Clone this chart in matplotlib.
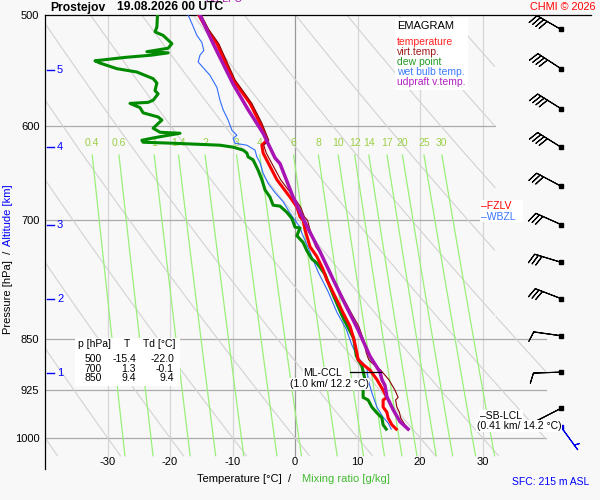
import numpy as np
import matplotlib
matplotlib.use("Agg")
import matplotlib.pyplot as plt
from matplotlib.patches import Rectangle
from matplotlib.ticker import NullLocator

plt.rcParams['font.family'] = ['Liberation Sans', 'DejaVu Sans']

# --- sounding (p in hPa, T in degC) ---
p_temp = [500, 512, 524, 556, 578, 597, 614, 619, 627, 655, 674, 685, 696, 700, 711, 731,
          743, 759, 772, 798, 815, 833, 850, 870, 880, 887, 895, 909, 925, 936, 940, 951,
          959, 968, 979, 986]
t_temp = [-15.4, -14.1, -12.5, -9.9, -7.2, -5.6, -4.5, -5.3, -5.1, -2.9, -0.8, 0.3, 0.8, 1.3,
          1.6, 2.4, 3.5, 4.5, 5.1, 6.7, 7.7, 8.8, 9.4, 9.9, 10.1, 10.9, 12.0, 13.1, 14.1, 14.7,
          14.1, 14.1, 14.7, 14.9, 15.5, 16.2]
t_virt = [-15.0, -13.8, -12.2, -9.6, -6.9, -5.3, -4.2, -5.0, -4.6, -2.3, -0.2, 0.9, 1.5, 2.0,
          2.4, 3.3, 4.4, 5.5, 6.2, 7.9, 9.0, 10.2, 10.9, 11.4, 11.8, 12.6, 13.7, 15.0, 16.0, 16.5,
          16.1, 16.3, 16.7, 16.9, 17.6, 18.1]

p_dew = [500, 510, 514, 517, 524, 528, 531, 532, 534, 536, 539, 541, 546, 549, 555, 559, 566,
         569, 575, 577, 578, 582, 587, 591, 594, 602, 606, 607, 611, 614, 616, 617, 619, 621,
         624, 627, 631, 634, 645, 655, 666, 674, 683, 684, 691, 698, 708, 709, 718, 726, 736,
         746, 751, 765, 791, 818, 850, 874, 880, 889, 909, 922, 936, 940, 951, 960, 968, 979, 986]
t_dew = [-22.0, -22.1, -22.4, -21.1, -19.7, -20.3, -23.7, -20.3, -22.9, -27.2, -32.0, -31.2,
         -28.5, -25.3, -22.7, -22.1, -22.4, -21.9, -22.7, -23.5, -26.4, -24.8, -24.3, -21.9,
         -21.3, -22.7, -21.6, -18.4, -22.1, -24.5, -24.3, -19.5, -12.0, -9.9, -8.3, -7.7, -7.5,
         -6.7, -5.9, -5.3, -4.8, -4.0, -3.5, -2.4, -1.3, -0.5, 0.0, 0.8, 0.3, 1.3, 1.9, 2.7, 3.5,
         4.8, 6.1, 7.5, 9.4, 9.8, 10.1, 10.7, 11.2, 10.9, 10.9, 11.7, 12.3, 13.1, 13.9, 14.1, 14.6]

p_wet = [500, 507, 517, 523, 530, 534, 540, 545, 552, 563, 575, 584, 594, 604, 609, 612, 617,
         619, 624, 631, 637, 648, 659, 669, 679, 692, 700, 708, 715, 732, 747, 762, 787, 814,
         837, 859, 874, 880, 891, 909, 929, 951, 967, 976, 986]
t_wet = [-17.1, -16.5, -15.7, -14.9, -14.6, -15.2, -15.5, -14.7, -13.6, -12.5, -12.0, -11.5,
         -10.7, -10.1, -9.3, -9.9, -9.6, -7.7, -6.4, -6.1, -5.6, -5.1, -4.3, -3.2, -1.9, -0.8,
         0.0, 0.8, 1.1, 2.1, 2.9, 3.7, 5.3, 6.7, 8.2, 9.1, 9.9, 10.4, 11.5, 11.7, 12.3, 13.1,
         14.1, 14.9, 15.4]

p_parcel = [500, 524, 560, 584, 607, 632, 638, 674, 707, 737, 768, 798, 838, 875, 898, 909,
            918, 935, 955, 974, 986]
t_parcel = [-15.2, -13.1, -9.9, -7.5, -5.1, -3.2, -2.4, -0.3, 1.9, 4.0, 5.9, 7.7, 10.1, 12.0,
            13.6, 13.9, 14.4, 14.7, 15.7, 16.8, 18.1]

# winds every 500 m (direction deg, speed kt)
wind_p = [512, 546, 583, 621, 662, 705, 750, 796, 846, 898, 953]
wind_dir = [300, 303, 302, 302, 298, 294, 287, 291, 278, 268, 243]
wind_spd = [40, 40, 40, 40, 30, 30, 30, 30, 10, 10, 10]
sfc_wind_p = [983]
sfc_wind_dir = [144]
sfc_wind_spd = [5]

table_p = [500, 700, 850]
table_t = [-15.4, 1.3, 9.4]
table_td = [-22.0, -0.1, 9.4]

alt_km = [1, 2, 3, 4, 5]
alt_p = [900, 797, 706, 621, 547]

mix_ratios = [0.4, 0.6, 1, 1.4, 2, 3, 4, 6, 8, 10, 12, 14, 17, 20, 25, 30]
isobars = [600, 700, 850, 925, 1000]
isotherms = [-30, -20, -10, 0, 10, 20, 30]

BG = '#f8f8f8'
W, H = 600, 500


def fx(x):
    return x / W


def fy(y):
    return 1 - y / H


def uv(spd, dirs):
    d = np.deg2rad(dirs)
    return -np.array(spd) * np.sin(d), -np.array(spd) * np.cos(d)


fig = plt.figure(figsize=(6, 5), dpi=100, facecolor=BG)
ax = fig.add_axes([45 / W, 31 / H, 546 / W, 454 / H])
ax.set_facecolor(BG)
ax.set_yscale('log')
ax.set_xlim(-40, 47.36)
ax.set_ylim(1052.6, 500)

# background grid: isotherms, isobars, dry adiabats, mixing ratio lines
for t in isotherms:
    ax.plot([t, t], [500, 1030], color='#999999' if t == 0 else '#d6d6d6', lw=0.9, zorder=1)
for p in isobars:
    ax.plot([-40, 32 if p < 800 else 40.2], [p, p], color='#aaaaaa', lw=0.9, zorder=1)

pp = np.linspace(500, 1030, 400)
for theta in 273.15 + 10 * np.arange(-5, 12):
    tt = theta * (pp / 1000.0) ** 0.286 - 273.15
    lim = np.where(pp < 820, 32, 40.2)
    tt = np.where(tt <= lim, tt, np.nan)
    ax.plot(tt, pp, color='#d2d2d2', lw=0.8, zorder=1)

pm = np.linspace(629, 1030, 60)
for w in mix_ratios:
    e = w * pm / (622.0 + w)
    lg = np.log(e / 6.112)
    td = 243.5 * lg / (17.67 - lg)
    ax.plot(td, pm, color='#9af07a', lw=0.9, zorder=2)
    ax.text(td[0], 616.7, f'{w:g}', color='#9ccf45', fontsize=7.5, ha='center', va='center', zorder=2)

# sounding curves
ax.plot(t_wet, p_wet, color='#2f6cff', lw=0.8, zorder=4)
ax.plot(t_dew, p_dew, color='#008a00', lw=2.2, zorder=5)
ax.plot(t_temp, p_temp, color='#ff0000', lw=2.2, zorder=5)
ax.plot(t_virt, p_temp, color='#8b0000', lw=0.8, zorder=6)
ax.plot(t_parcel, p_parcel, color='#a814b4', lw=2.5, zorder=7)

# wind barbs
bx = 42.56
barb_sizes = dict(spacing=0.14, height=0.36, width=0.25)
u, v = uv(wind_spd, wind_dir)
ax.barbs([bx] * len(wind_p), wind_p, u, v, length=6.3, color='black', linewidth=0.8,
         sizes=barb_sizes, flip_barb=True, zorder=8)
ax.plot([bx] * len(wind_p), wind_p, 's', ms=2.2, color='black', zorder=9)
u, v = uv(sfc_wind_spd, sfc_wind_dir)
ax.barbs([bx], sfc_wind_p, u, v, length=6.3, color='#0000ee', linewidth=0.8,
         sizes=barb_sizes, flip_barb=True, zorder=8)
ax.plot([bx], sfc_wind_p, 's', ms=2.2, color='#0000ee', zorder=9)

# level annotations
ax.plot([8.8, 13.8], [898, 898], color='black', lw=0.9, zorder=9)
box = dict(facecolor='white', edgecolor='none', pad=0.5)
fig.text(fx(323), fy(373), 'ML-CCL', fontsize=7.5, ha='center', va='center', bbox=box)
fig.text(fx(329), fy(384), '(1.0 km/ 12.2 °C)', fontsize=7.5, ha='center', va='center', bbox=box)
fig.text(fx(480), fy(416), '–SB-LCL', fontsize=7.5, ha='left', va='center', bbox=box)
fig.text(fx(477), fy(426), '(0.41 km/ 14.2 °C)', fontsize=7.5, ha='left', va='center', bbox=box)
fig.add_artist(Rectangle((fx(480), fy(222)), 43 / W, 22 / H, transform=fig.transFigure,
                         facecolor='white', edgecolor='none', zorder=2.5))
fig.text(fx(481), fy(206), '–FZLV', fontsize=7.5, color='#ff0000', ha='left', va='center')
fig.text(fx(481), fy(216.5), '–WBZL', fontsize=7.5, color='#3a72ff', ha='left', va='center')
fig.text(fx(206), fy(-1.5), 'SB-LFC', fontsize=7.5, color='#a814b4', ha='left', va='center')

# altitude marks
ytr = ax.get_yaxis_transform()
for k, p in zip(alt_km, alt_p):
    ax.plot([0.004, 0.016], [p, p], color='#0000ff', lw=1, transform=ytr, zorder=9)
    ax.text(0.022, p, str(k), color='#0000ff', fontsize=8, ha='left', va='center', transform=ytr)

# axes styling
ax.yaxis.set_minor_locator(NullLocator())
ax.set_yticks([500] + isobars, labels=[str(p) for p in [500] + isobars])
ax.set_xticks(isotherms, labels=[str(t) for t in isotherms])
ax.tick_params(axis='y', length=0, pad=4, labelsize=8)
ax.tick_params(axis='x', length=0, pad=-8.6, labelsize=8)
for s in ['right', 'bottom']:
    ax.spines[s].set_visible(False)
for s in ['left', 'top']:
    ax.spines[s].set_color('black')
    ax.spines[s].set_linewidth(0.9)

# axis titles
fig.text(fx(8), fy(334), 'Pressure [hPa]  /', fontsize=8, rotation=90, ha='left', va='center',
         rotation_mode='anchor')
fig.text(fx(8), fy(246), 'Altitude [km]', fontsize=8, rotation=90, color='#0000ff', ha='left',
         va='center', rotation_mode='anchor')
fig.text(fx(197), fy(479), 'Temperature [°C]  /', fontsize=8, ha='left', va='center')
fig.text(fx(302), fy(479), 'Mixing ratio [g/kg]', fontsize=8, color='#44bb33', ha='left', va='center')

fig.text(fx(50), fy(7.5), 'Prostejov', fontsize=8.7, fontweight='bold', ha='left', va='center')
fig.text(fx(117), fy(7.5), '19.08.2026 00 UTC', fontsize=8.7, fontweight='bold', ha='left', va='center')
fig.text(fx(596), fy(7), 'CHMI © 2026', fontsize=7.8, color='#ff0000', ha='right', va='center')
fig.text(fx(589), fy(482), 'SFC: 215 m ASL', fontsize=7.5, color='#0000ff', ha='right', va='center')

# legend box
fig.add_artist(Rectangle((fx(395), fy(90)), 73 / W, 72 / H, transform=fig.transFigure,
                         facecolor='white', edgecolor='none', zorder=2.5))
fig.text(fx(397), fy(26), 'EMAGRAM', fontsize=8, ha='left', va='center')
leg_names = ['temperature', 'virt.temp.', 'dew point', 'wet bulb temp.', 'udpraft v.temp.']
leg_colors = ['#ff2020', '#a01818', '#229922', '#3a7aff', '#b020c0']
for i, (n, c) in enumerate(zip(leg_names, leg_colors)):
    fig.text(fx(397), fy(42 + 10 * i), n, fontsize=7.5, color=c, ha='left', va='center')

# table
fig.add_artist(Rectangle((fx(75), fy(386)), 105 / W, 48 / H, transform=fig.transFigure,
                         facecolor='white', edgecolor='none', zorder=2.5))
fig.text(fx(78), fy(344), 'p [hPa]', fontsize=7.5, ha='left', va='center')
fig.text(fx(127), fy(344), 'T', fontsize=7.5, ha='center', va='center')
fig.text(fx(143), fy(344), 'Td [°C]', fontsize=7.5, ha='left', va='center')
for i, (p, t, td) in enumerate(zip(table_p, table_t, table_td)):
    y = 359 + 9.7 * i
    fig.text(fx(102), fy(y), str(p), fontsize=7.5, ha='right', va='center')
    fig.text(fx(136), fy(y), f'{t:.1f}', fontsize=7.5, ha='right', va='center')
    fig.text(fx(174), fy(y), f'{td:.1f}', fontsize=7.5, ha='right', va='center')

fig.savefig('out.png', dpi=100, facecolor=BG)
